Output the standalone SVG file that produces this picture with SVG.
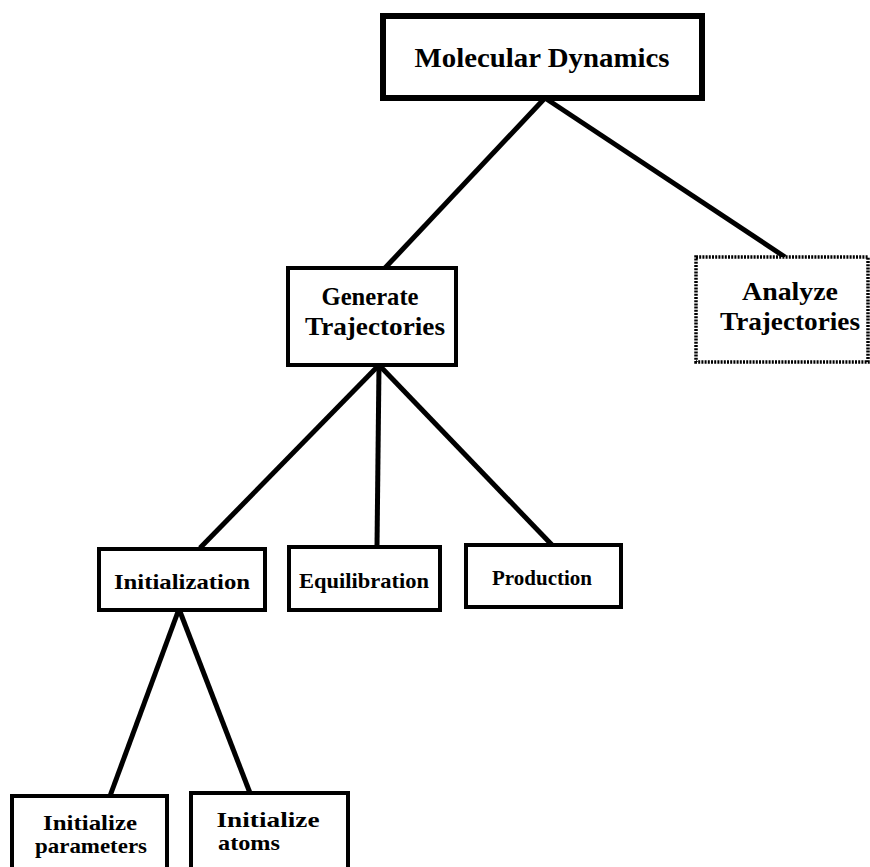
<svg xmlns="http://www.w3.org/2000/svg" width="870" height="867" viewBox="0 0 870 867">
<style>
.box{fill:#fff;stroke:#000;stroke-width:4}
.thick{stroke-width:6}
.dotted{stroke-dasharray:2 1.2;stroke-width:3.5}
.t{font-family:"Liberation Serif","DejaVu Serif",serif;font-weight:bold;fill:#000;text-anchor:middle}
.s{text-anchor:start}
.conn line{stroke:#000;stroke-width:5;stroke-linecap:butt}
</style>
<rect width="870" height="867" fill="#fff"/>
<g id="connectors" class="conn">
<line x1="545" y1="98" x2="385" y2="268"/>
<line x1="545" y1="98" x2="785" y2="257"/>
<line x1="379" y1="365" x2="200" y2="548"/>
<line x1="379" y1="365" x2="377" y2="547"/>
<line x1="379" y1="365" x2="552" y2="545"/>
<line x1="179" y1="609" x2="110" y2="796"/>
<line x1="179" y1="609" x2="250" y2="793"/>
</g>
<g id="molecular-dynamics">
<rect class="box thick" x="383" y="16" width="319" height="82"/>
<text class="t" x="542" y="67" font-size="28" textLength="255" lengthAdjust="spacingAndGlyphs">Molecular Dynamics</text>
</g>
<g id="generate-trajectories">
<rect class="box" x="288" y="268" width="168" height="97"/>
<text class="t" x="370" y="305" font-size="26" textLength="97" lengthAdjust="spacingAndGlyphs">Generate</text>
<text class="t" x="375" y="335" font-size="26" textLength="140" lengthAdjust="spacingAndGlyphs">Trajectories</text>
</g>
<g id="analyze-trajectories">
<rect class="box dotted" x="696" y="257" width="172" height="105"/>
<text class="t" x="790" y="300" font-size="26" textLength="96" lengthAdjust="spacingAndGlyphs">Analyze</text>
<text class="t" x="790" y="330" font-size="26" textLength="140" lengthAdjust="spacingAndGlyphs">Trajectories</text>
</g>
<g id="initialization">
<rect class="box" x="99" y="549" width="166" height="61"/>
<text class="t" x="182" y="589" font-size="21" textLength="136" lengthAdjust="spacingAndGlyphs">Initialization</text>
</g>
<g id="equilibration">
<rect class="box" x="289" y="547" width="151" height="63"/>
<text class="t" x="364" y="588" font-size="21" textLength="130" lengthAdjust="spacingAndGlyphs">Equilibration</text>
</g>
<g id="production">
<rect class="box" x="466" y="545" width="155" height="62"/>
<text class="t" x="542" y="585" font-size="21" textLength="100" lengthAdjust="spacingAndGlyphs">Production</text>
</g>
<g id="initialize-parameters">
<rect class="box" x="12" y="796" width="155" height="80"/>
<text class="t" x="90" y="830" font-size="21" textLength="94" lengthAdjust="spacingAndGlyphs">Initialize</text>
<text class="t" x="91" y="853" font-size="21" textLength="112" lengthAdjust="spacingAndGlyphs">parameters</text>
</g>
<g id="initialize-atoms">
<rect class="box" x="191" y="793" width="157" height="80"/>
<text class="t" x="268" y="827" font-size="21" textLength="103" lengthAdjust="spacingAndGlyphs">Initialize</text>
<text class="t s" x="218" y="850" font-size="21" textLength="62" lengthAdjust="spacingAndGlyphs">atoms</text>
</g>
</svg>
